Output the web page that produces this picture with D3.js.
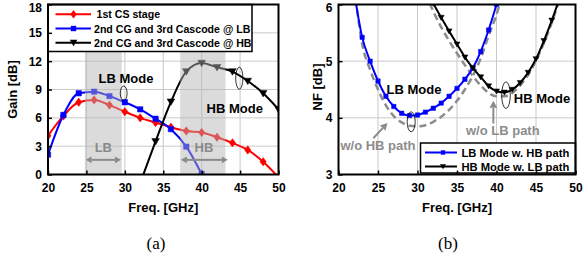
<!DOCTYPE html>
<html>
<head>
<meta charset="utf-8">
<script src="https://cdn.jsdelivr.net/npm/d3@7"></script>
<style>
  html, body { margin: 0; padding: 0; background: #fff; }
  svg { display: block; }
</style>
</head>
<body>
<svg id="chart" width="586" height="258"></svg>
<script>
// ---------- DATA ----------
// (a) Gain
const gainFreq   = [20,22,24,26,28,30,32,34,36,38,40,42,44,46,48,50];
const gainCS     = [4.1,6.2,7.65,7.9,7.35,6.65,6.0,5.5,5.0,4.6,4.45,3.95,3.35,2.6,1.35,-0.3];
const gainLBFreq = [20,22,24,26,28,30,32,34,36,38,40];
const gainLB     = [2.1,6.3,8.6,8.77,8.3,7.65,6.9,5.9,4.8,2.95,0.05];
const gainHBFreq = [32,34,36,38,40,42,44,46,48,50];
const gainHB     = [-0.9,3.5,7.7,10.9,11.8,11.35,10.9,9.9,8.6,6.9];
const gainSeriesNames = ["1st CS stage","2nd CG and 3rd Cascode @ LB","2nd CG and 3rd Cascode @ HB"];
const gainTicks = [0,3,6,9,12,15,18];
const freqTicks = [20,25,30,35,40,45,50];
const lbBand = [24.8,29.6];
const hbBand = [37.2,43.1];

// (b) NF
const nfLBFreq   = [22,23,24,25,26,27,28,29,30,31,32,33,34,35,36,37,38,39,40,41];
const nfLB       = [6.2,5.42,5.0,4.65,4.38,4.2,4.08,4.04,4.05,4.1,4.17,4.26,4.38,4.52,4.68,4.88,5.17,5.55,6.0,6.5];
const nfLBnoHB   = [6.3,5.3,4.85,4.5,4.22,4.03,3.92,3.86,3.85,3.87,3.93,4.02,4.14,4.3,4.5,4.74,5.05,5.45,5.82,6.3];
const nfHBFreq   = [31,32,33,34,35,36,37,38,39,40,41,42,43,44,45,46,47,48];
const nfHB       = [6.3,6.02,5.77,5.53,5.3,5.07,4.88,4.72,4.56,4.47,4.45,4.5,4.62,4.8,5.04,5.36,5.72,6.12];
const nfHBnoLB   = [6.2,5.88,5.6,5.36,5.14,4.93,4.74,4.57,4.44,4.38,4.38,4.44,4.57,4.76,5.01,5.32,5.68,6.1];
const nfSeriesNames = ["LB Mode w. HB path","HB Mode w. LB path"];
const nfTicks = [3,4,5,6];

// ---------- SETUP ----------
const svg = d3.select("#chart");
const FONT = 'Arial, "Liberation Sans", sans-serif';
const SERIF = '"Liberation Serif", "Times New Roman", "DejaVu Serif", serif';
const gridColor = "#c9c9c9";
svg.style("font-family", FONT);

function grid(g, x, y, yTicks) {
  const [x0, x1] = x.range();
  const [yb, yt] = y.range();
  g.append("g").selectAll("line").data(freqTicks.slice(1, -1)).join("line")
    .attr("x1", d => x(d)).attr("x2", d => x(d)).attr("y1", yt).attr("y2", yb)
    .attr("stroke", gridColor).attr("stroke-width", 1);
  g.append("g").selectAll("line").data(yTicks.slice(1, -1)).join("line")
    .attr("y1", d => y(d)).attr("y2", d => y(d)).attr("x1", x0).attr("x2", x1)
    .attr("stroke", gridColor).attr("stroke-width", 1);
}

function drawFrame(g, x, y, yTicks, xTitle, yTitle, yTitleX, yTitleY) {
  const [x0, x1] = x.range();
  const [yb, yt] = y.range();
  const xa = g.append("g").attr("transform", `translate(0,${yb})`)
    .call(d3.axisBottom(x).tickValues(freqTicks).tickSize(-4).tickPadding(9).tickFormat(d3.format("d")));
  const ya = g.append("g").attr("transform", `translate(${x0},0)`)
    .call(d3.axisLeft(y).tickValues(yTicks).tickSize(-4).tickPadding(6).tickFormat(d3.format("d")));
  [xa, ya].forEach(a => {
    a.select(".domain").remove();
    a.selectAll(".tick line").attr("stroke", "#000").attr("stroke-width", 1.5);
    a.selectAll(".tick text").style("font-family", FONT).attr("font-weight", "bold")
      .attr("font-size", 12).attr("fill", "#000");
  });
  // keep top label inside the picture
  ya.selectAll(".tick").filter(d => d === yTicks[yTicks.length - 1]).select("text").attr("dy", "0.62em");
  g.append("rect").attr("x", x0).attr("y", yt).attr("width", x1 - x0).attr("height", yb - yt)
    .attr("fill", "none").attr("stroke", "#000").attr("stroke-width", 2);
  g.append("text").attr("x", (x0 + x1) / 2).attr("y", 212).attr("text-anchor", "middle")
    .attr("font-weight", "bold").attr("font-size", 13).text(xTitle);
  g.append("text").attr("transform", `translate(${yTitleX},${yTitleY}) rotate(-90)`)
    .attr("text-anchor", "middle").attr("font-weight", "bold").attr("font-size", 13).text(yTitle);
}

const diamond = (s) => `M0,${-s} L${s*0.75},0 L0,${s} L${-s*0.75},0 Z`;
const square = (s) => `M${-s},${-s} H${s} V${s} H${-s} Z`;
const triDown = (s) => `M${-s},${-s*0.75} H${s} L0,${s*0.95} Z`;

function series(g, x, y, xs, ys, color, markerPath, curve, width) {
  const pts = xs.map((f, i) => [f, ys[i]]);
  g.append("path").datum(pts)
    .attr("d", d3.line().x(d => x(d[0])).y(d => y(d[1])).curve(curve))
    .attr("fill", "none").attr("stroke", color).attr("stroke-width", width);
  if (markerPath) {
    g.append("g").selectAll("path").data(pts).join("path")
      .attr("transform", d => `translate(${x(d[0])},${y(d[1])})`)
      .attr("d", markerPath).attr("fill", color).attr("stroke", color).attr("stroke-width", 0.5);
  }
}

function arrow(g, xA, yA, xB, yB, color, head) {
  const ang = Math.atan2(yB - yA, xB - xA);
  const hl = head, hw = head * 0.55;
  const bx = xB - hl * Math.cos(ang), by = yB - hl * Math.sin(ang);
  g.append("line").attr("x1", xA).attr("y1", yA).attr("x2", bx).attr("y2", by)
    .attr("stroke", color).attr("stroke-width", 2);
  const p = [[xB, yB],
    [bx + hw * Math.sin(ang), by - hw * Math.cos(ang)],
    [bx - hw * Math.sin(ang), by + hw * Math.cos(ang)]];
  g.append("path").attr("d", "M" + p.map(q => q.join(",")).join("L") + "Z").attr("fill", color);
}

// ---------- (a) GAIN ----------
const xa = d3.scaleLinear().domain([20, 50]).range([48, 278.5]);
const ya = d3.scaleLinear().domain([0, 18]).range([174.5, 4.5]);
const ga = svg.append("g");
svg.append("clipPath").attr("id", "clipA").append("rect")
  .attr("x", 48).attr("y", 4.5).attr("width", 230.5).attr("height", 170);
grid(ga, xa, ya, gainTicks);
const gaData = ga.append("g").attr("clip-path", "url(#clipA)");
series(gaData, xa, ya, gainFreq, gainCS, "#ff0000", diamond(4.2), d3.curveMonotoneX, 2);
series(gaData, xa, ya, gainLBFreq, gainLB, "#0000ff", square(2.7), d3.curveMonotoneX, 2);
series(gaData, xa, ya, gainHBFreq, gainHB, "#000000", triDown(3.8), d3.curveMonotoneX, 2);
[lbBand, hbBand].forEach(b => {
  ga.append("rect").attr("x", xa(b[0])).attr("y", ya(18)).attr("width", xa(b[1]) - xa(b[0]))
    .attr("height", ya(0) - ya(18)).attr("fill", "rgb(180,180,180)").attr("fill-opacity", 0.48);
});
const bandGray = "#8a8a8a";
arrow(ga, xa(27.2), ya(1.55), xa(24.9), ya(1.55), bandGray, 6);
arrow(ga, xa(27.2), ya(1.55), xa(29.5), ya(1.55), bandGray, 6);
arrow(ga, xa(40.3), ya(1.55), xa(37.3), ya(1.55), bandGray, 6);
arrow(ga, xa(40.3), ya(1.55), xa(43.4), ya(1.55), bandGray, 6);
ga.append("text").attr("x", xa(27.2)).attr("y", ya(2.9) + 5).attr("text-anchor", "middle")
  .attr("font-weight", "bold").attr("font-size", 13).attr("fill", bandGray).text("LB");
ga.append("text").attr("x", xa(40.3)).attr("y", ya(2.9) + 5).attr("text-anchor", "middle")
  .attr("font-weight", "bold").attr("font-size", 13).attr("fill", bandGray).text("HB");
ga.append("text").attr("x", xa(30.15)).attr("y", ya(10.2) + 5).attr("text-anchor", "middle")
  .attr("font-weight", "bold").attr("font-size", 13).text("LB Mode");
ga.append("text").attr("x", xa(44.3)).attr("y", ya(7.0) + 5).attr("text-anchor", "middle")
  .attr("font-weight", "bold").attr("font-size", 13).text("HB Mode");
ga.append("ellipse").attr("cx", xa(29.85)).attr("cy", ya(8.6)).attr("rx", 3.4).attr("ry", 7.3)
  .attr("fill", "none").attr("stroke", "#000").attr("stroke-width", 0.8);
ga.append("ellipse").attr("cx", xa(44.9)).attr("cy", ya(10.2)).attr("rx", 3.6).attr("ry", 11)
  .attr("fill", "none").attr("stroke", "#000").attr("stroke-width", 0.8);
const la = ga.append("g");
la.append("rect").attr("x", 48).attr("y", 4.5).attr("width", 204).attr("height", 47)
  .attr("fill", "#fff").attr("stroke", "#000").attr("stroke-width", 1.5);
const legA = [
  {name: gainSeriesNames[0], color: "#ff0000", m: diamond(4.2), tx: 96.5},
  {name: gainSeriesNames[1], color: "#0000ff", m: square(2.7), tx: 94},
  {name: gainSeriesNames[2], color: "#000000", m: triDown(3.8), tx: 94}
];
legA.forEach((d, i) => {
  const yy = 14.3 + i * 14.2;
  la.append("line").attr("x1", 55.5).attr("x2", 91).attr("y1", yy).attr("y2", yy)
    .attr("stroke", d.color).attr("stroke-width", 2);
  la.append("path").attr("transform", `translate(73.5,${yy})`).attr("d", d.m).attr("fill", d.color);
  la.append("text").attr("x", d.tx).attr("y", yy + 4).attr("font-weight", "bold")
    .attr("font-size", 10.6).text(d.name);
});
drawFrame(ga, xa, ya, gainTicks, "Freq. [GHz]", "Gain [dB]", 17, 89.5);

// ---------- (b) NF ----------
const xb = d3.scaleLinear().domain([20, 50]).range([338.5, 575.5]);
const yb = d3.scaleLinear().domain([3, 6]).range([174.5, 4.5]);
const gb = svg.append("g");
svg.append("clipPath").attr("id", "clipB").append("rect")
  .attr("x", 338.5).attr("y", 4.5).attr("width", 237).attr("height", 170);
grid(gb, xb, yb, nfTicks);
const gbData = gb.append("g").attr("clip-path", "url(#clipB)");
const dashGray = "#8c8c8c";
gbData.append("path").datum(nfLBFreq.map((f, i) => [f, nfLBnoHB[i]]))
  .attr("d", d3.line().x(d => xb(d[0])).y(d => yb(d[1])).curve(d3.curveMonotoneX))
  .attr("fill", "none").attr("stroke", dashGray).attr("stroke-width", 2.5).attr("stroke-dasharray", "7,4");
gbData.append("path").datum(nfHBFreq.map((f, i) => [f, nfHBnoLB[i]]))
  .attr("d", d3.line().x(d => xb(d[0])).y(d => yb(d[1])).curve(d3.curveMonotoneX))
  .attr("fill", "none").attr("stroke", dashGray).attr("stroke-width", 2.5).attr("stroke-dasharray", "7,4");
series(gbData, xb, yb, nfLBFreq, nfLB, "#0000ff", square(2.2), d3.curveMonotoneX, 2);
series(gbData, xb, yb, nfHBFreq, nfHB, "#000000", triDown(3), d3.curveMonotoneX, 2);
gb.append("text").attr("x", xb(29.56)).attr("y", yb(4.51) + 5).attr("text-anchor", "middle")
  .attr("font-weight", "bold").attr("font-size", 13).text("LB Mode");
gb.append("text").attr("x", xb(45.76)).attr("y", yb(4.35) + 5).attr("text-anchor", "middle")
  .attr("font-weight", "bold").attr("font-size", 13).text("HB Mode");
gb.append("text").attr("x", xb(25.0)).attr("y", yb(3.52) + 5).attr("text-anchor", "middle")
  .attr("font-weight", "bold").attr("font-size", 13).attr("fill", dashGray).text("w/o HB path");
gb.append("text").attr("x", xb(40.8)).attr("y", yb(3.79) + 5).attr("text-anchor", "middle")
  .attr("font-weight", "bold").attr("font-size", 13).attr("fill", dashGray).text("w/o LB path");
gb.append("ellipse").attr("cx", xb(29.2)).attr("cy", yb(3.93)).attr("rx", 4).attr("ry", 10)
  .attr("fill", "none").attr("stroke", "#000").attr("stroke-width", 0.8);
gb.append("ellipse").attr("cx", xb(41.2)).attr("cy", yb(4.4)).attr("rx", 4.3).attr("ry", 13.3)
  .attr("fill", "none").attr("stroke", "#000").attr("stroke-width", 0.8);
arrow(gb, xb(24.4), yb(3.64), xb(26.2), yb(3.91), dashGray, 7);
arrow(gb, xb(39.6), yb(3.9), xb(39.6), yb(4.3), dashGray, 7);
const lb = gb.append("g");
lb.append("rect").attr("x", 420.5).attr("y", 143).attr("width", 155).attr("height", 30)
  .attr("fill", "#fff").attr("stroke", "#000").attr("stroke-width", 1.5);
const legB = [
  {name: nfSeriesNames[0], color: "#0000ff", m: square(2.2)},
  {name: nfSeriesNames[1], color: "#000000", m: triDown(3)}
];
legB.forEach((d, i) => {
  const yy = 152.5 + i * 14;
  lb.append("line").attr("x1", 425).attr("x2", 457).attr("y1", yy).attr("y2", yy)
    .attr("stroke", d.color).attr("stroke-width", 2);
  lb.append("path").attr("transform", `translate(443,${yy})`).attr("d", d.m).attr("fill", d.color);
  lb.append("text").attr("x", 461.5).attr("y", yy + 4).attr("font-weight", "bold")
    .attr("font-size", 11.2).text(d.name);
});
drawFrame(gb, xb, yb, nfTicks, "Freq. [GHz]", "NF [dB]", 322, 87);

// captions (serif)
svg.append("text").attr("x", 156).attr("y", 249).attr("text-anchor", "middle")
  .style("font-family", SERIF).attr("font-size", 17).text("(a)");
svg.append("text").attr("x", 448).attr("y", 249).attr("text-anchor", "middle")
  .style("font-family", SERIF).attr("font-size", 17).text("(b)");
</script>
</body>
</html>
